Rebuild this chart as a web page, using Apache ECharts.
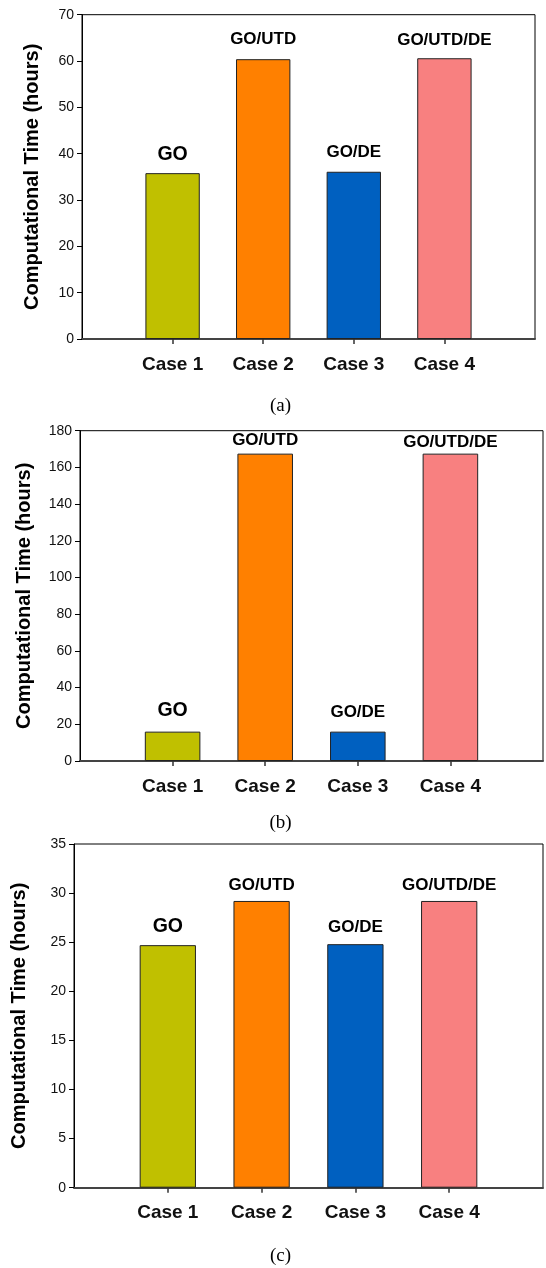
<!DOCTYPE html>
<html>
<head>
<meta charset="utf-8">
<script src="https://cdn.jsdelivr.net/npm/echarts@6/dist/echarts.min.js"></script>
<style>
  html, body { margin: 0; padding: 0; background: #fff; }
  #chart { width: 546px; height: 1268px; }
</style>
</head>
<body>
<div id="chart"></div>
<script>
// Case names and the method each case runs
const cases = ['Case 1', 'Case 2', 'Case 3', 'Case 4'];
const methods = ['GO', 'GO/UTD', 'GO/DE', 'GO/UTD/DE'];
const barColors = ['#C0C000', '#FF8000', '#0060C0', '#F88080'];

// Computational time (hours) for each panel
const timesA = [35.8, 60.4, 36.1, 60.6];
const timesB = [16.0, 167.5, 16.0, 167.5];
const timesC = [24.7, 29.2, 24.8, 29.2];

// Y-axis ranges: [max, tick interval]
const yRangeA = [70, 10];
const yRangeB = [180, 20];
const yRangeC = [35, 5];

const captions = ['(a)', '(b)', '(c)'];

// Panel layout: plot frame, y-title offset, label gaps above bars, caption position
const panels = [
  { times: timesA, yRange: yRangeA, left: 82, right: 11, top: 14.7, height: 324.3,
    nameGap: 40, labelGap: [9, 11, 11, 9.5], captionY: 406 },
  { times: timesB, yRange: yRangeB, left: 80, right: 3, top: 430.7, height: 330.3,
    nameGap: 46, labelGap: [11.5, 4.5, 10.5, 3], captionY: 823 },
  { times: timesC, yRange: yRangeC, left: 74, right: -6, top: 844, height: 343.7,
    nameGap: 45, labelGap: [9, 7, 8.5, 7], captionY: 1256.5 }
];

const FONT = '"Liberation Sans", Arial, sans-serif';

// Category slots: an empty slot on each side so the four cases sit at 1..4 of 0..5
const slots = [''].concat(cases, ['']);

const grids = [], xAxes = [], yAxes = [], series = [], graphics = [];

panels.forEach((p, k) => {
  grids.push({
    left: p.left, right: p.right, top: p.top, height: p.height,
    show: true, borderColor: '#000', borderWidth: 1, backgroundColor: 'transparent'
  });
  xAxes.push({
    type: 'category', gridIndex: k, data: slots, boundaryGap: false,
    axisLine: { lineStyle: { color: '#444', width: 2 } },
    axisTick: { length: 5, lineStyle: { color: '#333', width: 1.5 },
      interval: (i) => i > 0 && i < slots.length - 1 },
    axisLabel: { interval: 0, margin: 16, fontFamily: FONT, fontWeight: 'bold',
      fontSize: 19, color: '#111' },
    splitLine: { show: false }
  });
  yAxes.push({
    type: 'value', gridIndex: k, min: 0, max: p.yRange[0], interval: p.yRange[1],
    name: 'Computational Time (hours)', nameLocation: 'middle', nameGap: p.nameGap,
    nameTextStyle: { fontFamily: FONT, fontWeight: 'bold', fontSize: 20, color: '#000' },
    axisLine: { show: true, lineStyle: { color: '#000', width: 1 } },
    axisTick: { show: true, length: 5, lineStyle: { color: '#000', width: 1 } },
    axisLabel: { margin: 8, fontFamily: FONT, fontSize: 14, color: '#111' },
    splitLine: { show: false }
  });
  const data = ['-'].concat(p.times.map((v, i) => ({
    value: v,
    itemStyle: { color: barColors[i] },
    label: {
      formatter: methods[i],
      fontSize: methods[i] === 'GO' ? 19.5 : 17,
      distance: p.labelGap[i]
    }
  })), ['-']);
  series.push({
    type: 'bar', xAxisIndex: k, yAxisIndex: k, data: data, barWidth: '60%',
    itemStyle: { borderColor: '#222', borderWidth: 1 },
    label: { show: true, position: 'top', fontFamily: FONT, fontWeight: 'bold', color: '#000' },
    silent: true, animation: false
  });
  graphics.push({
    type: 'text', x: 280.5, y: p.captionY,
    style: { text: captions[k], font: '19px "Liberation Serif", "Times New Roman", serif',
      fill: '#000', textAlign: 'center', textVerticalAlign: 'middle' }
  });
});

const chart = echarts.init(document.getElementById('chart'), null, { renderer: 'canvas' });
chart.setOption({
  animation: false,
  backgroundColor: '#fff',
  grid: grids,
  xAxis: xAxes,
  yAxis: yAxes,
  series: series,
  graphic: graphics
});
</script>
</body>
</html>
